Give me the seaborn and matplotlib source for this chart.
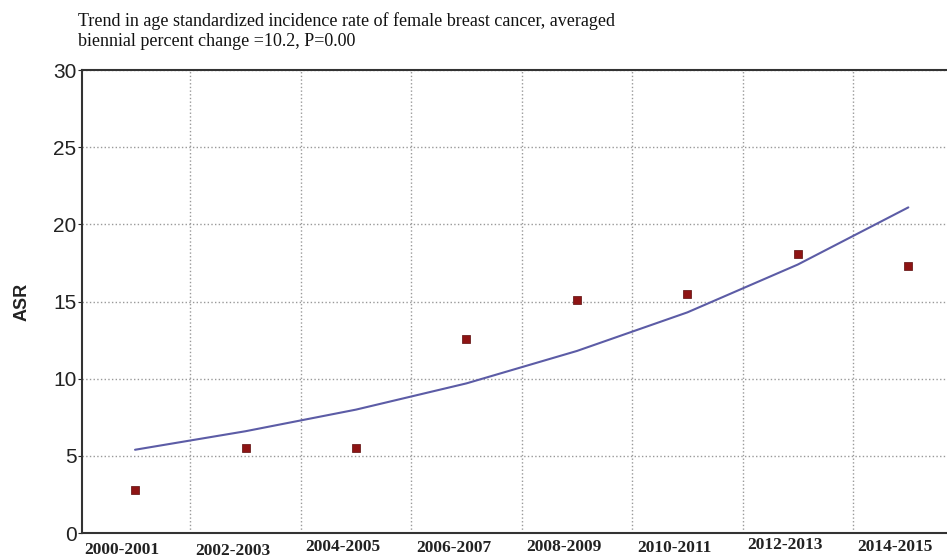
import matplotlib
matplotlib.use("Agg")
import matplotlib.pyplot as plt
import matplotlib.transforms as mtransforms
import seaborn as sns
import pandas as pd

# biennial periods
periods = ["2000-2001", "2002-2003", "2004-2005", "2006-2007",
           "2008-2009", "2010-2011", "2012-2013", "2014-2015"]
# observed ASR (squares)
observed = [2.8, 5.5, 5.5, 12.6, 15.1, 15.5, 18.1, 17.3]
# fitted trend (line)
fitted = [5.4, 6.6, 8.0, 9.7, 11.8, 14.3, 17.4, 21.1]
# how far below the axis each x label sits (pixels), uneven as in the scan
label_drop = [17, 18, 14, 15, 14, 15, 12, 14]

df = pd.DataFrame({"period": periods, "x": range(len(periods)),
                   "observed": observed, "fitted": fitted})

sns.set_style("white")

fig = plt.figure(figsize=(9.47, 5.6), dpi=100)
ax = fig.add_axes([0.0866, 0.048, 0.9134, 0.827])

sns.lineplot(data=df, x="x", y="fitted", ax=ax, color="#5c5ca6", linewidth=1.5)
sns.scatterplot(data=df, x="x", y="observed", ax=ax, marker="s", s=38,
                color="#8e1414", edgecolor="#5a0a0a", linewidth=0.5, zorder=3)

ax.set_xlim(-0.48, 7.35)
ax.set_ylim(0, 30)
ax.set_yticks([0, 5, 10, 15, 20, 25, 30])
ax.set_xticks(range(len(periods)))
ax.set_xticks([i + 0.5 for i in range(len(periods) - 1)], minor=True)
ax.set_xticklabels([])

# x labels drawn by hand: a little left of the points, uneven heights
base = ax.get_xaxis_transform()
for i, (name, drop) in enumerate(zip(periods, label_drop)):
    off = mtransforms.ScaledTranslation(-13 / 100, -drop / 100, fig.dpi_scale_trans)
    ax.text(i, 0, name, transform=base + off, ha="center", va="center",
            fontfamily="Liberation Serif", fontweight="bold", fontsize=12.5,
            color="#222222", clip_on=False)

for lab in ax.get_yticklabels():
    lab.set_fontfamily("Liberation Sans")
    lab.set_fontsize(15)
    lab.set_color("#222222")

ax.tick_params(axis="x", which="both", length=0)
ax.tick_params(axis="y", length=3, width=0.8, pad=1, left=True)

ax.grid(False)
ax.grid(True, axis="y", which="major", linestyle=":", color="#999999", linewidth=1)
ax.grid(True, axis="x", which="minor", linestyle=":", color="#999999", linewidth=1)

for side in ["left", "bottom", "top"]:
    ax.spines[side].set_visible(True)
    ax.spines[side].set_color("#333333")
    ax.spines[side].set_linewidth(1.5)
ax.spines["right"].set_visible(False)

ax.set_xlabel("")
ax.set_ylabel("ASR", fontfamily="Liberation Sans", fontweight="bold",
              fontsize=13, labelpad=16, color="#222222")

fig.text(0.082, 0.978, "Trend in age standardized incidence rate of female breast cancer, averaged\n"
         "biennial percent change =10.2, P=0.00",
         fontfamily="Liberation Serif", fontsize=13, va="top", ha="left",
         linespacing=1.2, color="#111111")

fig.savefig("out.png", dpi=100)
